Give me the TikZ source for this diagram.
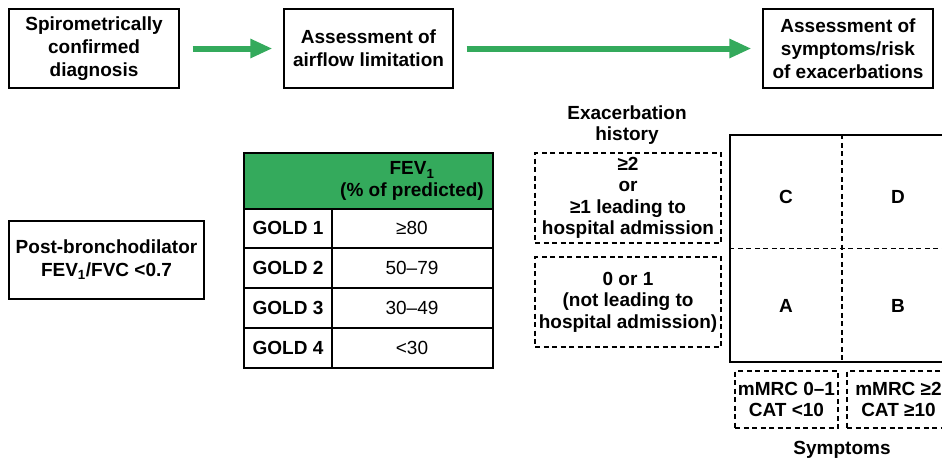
\documentclass[tikz,border=0pt]{standalone}
\usepackage{fontspec}
\setmainfont{Liberation Sans}
\usetikzlibrary{arrows.meta}
\definecolor{goldgreen}{RGB}{52,170,92}

\begin{document}
\begin{tikzpicture}[x=1pt,y=-1pt,
  every node/.style={font=\fontsize{19}{23}\selectfont\bfseries, align=center, inner sep=0pt},
  val/.style={font=\fontsize{19}{23}\selectfont},
  tight/.style={font=\fontsize{19}{21.5}\selectfont\bfseries},
  stage/.style={draw, line width=1.2pt, minimum width=170pt, minimum height=79pt},
  dashbox/.style={draw, line width=1.1pt, dash pattern=on 5pt off 3.5pt},
  flow/.style={goldgreen, line width=6pt, -{Triangle[length=22pt,width=18pt]}},
  rule/.style={line width=1.2pt}]
\path[use as bounding box, clip] (0,0) rectangle (942,459);
% top row
\node[stage] (spiro) at (94,48.5) {Spirometrically\\confirmed\\diagnosis};
\node[stage, minimum width=169pt] (airflow) at (368.5,48.5) {Assessment of\\airflow limitation};
\node[stage] (symrisk) at (848,48.5) {Assessment of\\symptoms/risk\\of exacerbations};
\draw[flow, shorten <=13pt, shorten >=11pt] (spiro) -- (airflow);
\draw[flow, shorten <=13pt, shorten >=11pt] (airflow) -- (symrisk);
% spirometry
\node[stage, minimum width=195pt, minimum height=78pt] (postbd) at (106.5,260) {Post-bronchodilator\\FEV\textsubscript{1}/FVC <0.7};
% GOLD table
\fill[goldgreen] (244,153) rectangle (493,209);
\draw[rule] (244,153) rectangle (493,368);
\foreach \y in {209,248,288,328} {
 \draw[rule] (244,\y) -- (493,\y);
}
\draw[rule] (332,209) -- (332,368);
\node[tight] (fevhead) at (412,181) {FEV\textsubscript{1}\\(\% of predicted)};
\foreach \v [count=\i] in {≥80,50–79,30–49,<30} {
 \node (gold\i) at (288,188+40*\i) {GOLD \i};
 \node[val] (fev\i) at (412,188+40*\i) {\v};
}
% exacerbation history
\node[tight, font=\fontsize{19}{20.5}\selectfont\bfseries] (exhist) at (627,125) {Exacerbation\\history};
\node[dashbox, tight, minimum width=186pt, minimum height=90pt] (exhigh) at (628,198) {≥2\\or\\≥1 leading to\\hospital admission};
\node[dashbox, tight, minimum width=186pt, minimum height=90pt] (exlow) at (628,302) {0 or 1\\(not leading to\\hospital admission)};
% ABCD grid
\node[draw, rule, minimum width=224pt, minimum height=227pt] (quad) at (842,248.5) {};
\draw[dashbox] (quad.north) -- (quad.south);
\draw[dashbox] (quad.west) -- (quad.east);
\node (grpC) at (786,197) {C};
\node (grpD) at (898,197) {D};
\node (grpA) at (786,306) {A};
\node (grpB) at (898,306) {B};
% symptoms
\node[dashbox, tight, minimum width=103pt, minimum height=57pt] (symlow) at (786.5,399.5) {mMRC 0–1\\CAT <10};
\node[dashbox, tight, minimum width=103pt, minimum height=57pt] (symhigh) at (898.5,399.5) {mMRC ≥2\\CAT ≥10};
\node (symp) at (842,450) {Symptoms};
\end{tikzpicture}
\end{document}
